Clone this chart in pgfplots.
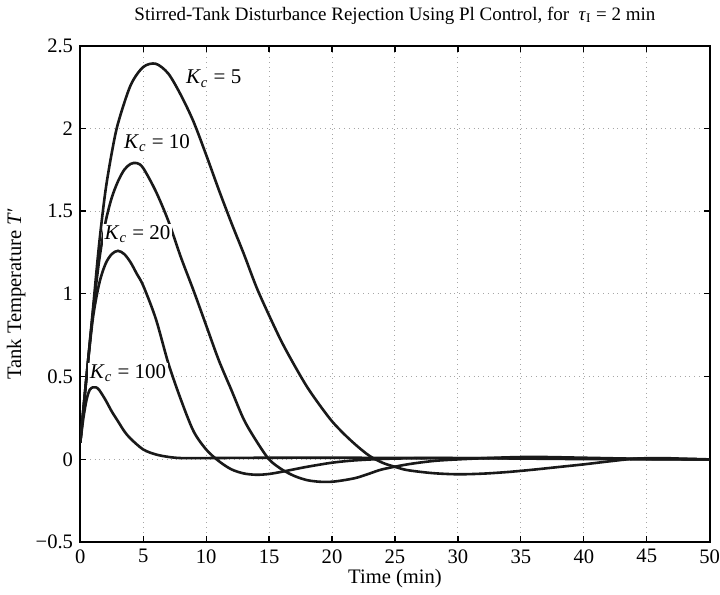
\documentclass[border=0pt]{standalone}
\usepackage{fontspec}
\setmainfont{Liberation Serif}
\usepackage{pgfplots}
\pgfplotsset{compat=1.18}

\begin{document}
\fontsize{10.3}{12}\selectfont
\begin{tikzpicture}
\begin{axis}[
    scale only axis,
    width=315pt, height=248.5pt,
    xmin=0, xmax=50, ymin=-0.5, ymax=2.5,
    xtick={0,5,...,50},
    ytick={-0.5,0,0.5,1,1.5,2,2.5},
    yticklabels={−0.5,0,0.5,1,1.5,2,2.5},
    tick align=inside,
    major tick length=3pt,
    tick style={black, line width=0.6pt},
    axis line style={line width=1pt},
    grid=major,
    major grid style={dotted, gray!70, line width=0.5pt},
    /pgf/number format/assume math mode=true,
    tick label style={font=\fontsize{10.3}{12}\selectfont},
    xticklabel style={inner xsep=0pt},
    label style={font=\fontsize{10.3}{12}\selectfont},
    xlabel={Time (min)},
    ylabel={Tank Temperature \textit{T}′},
    xlabel style={yshift=4pt},
    ylabel style={yshift=-2pt},
    title={Stirred-Tank Disturbance Rejection Using Pl Control, for \ \textit{τ}\textsubscript{I} = 2 min},
    title style={yshift=1pt, font=\fontsize{9.5}{11}\selectfont},
    curve/.style={black!90, line width=1.3pt, no markers, smooth, tension=0.5},
]
% Kc = 5
\addplot[curve] coordinates {
(0,0.10) (0.5,0.50) (1,0.90) (1.5,1.30) (2,1.62) (2.5,1.85) (3,2.03) (4,2.26)
(5,2.37) (6,2.39) (7,2.33) (8,2.20) (9,2.04) (10,1.84) (11,1.63) (12,1.43)
(13,1.24) (14,1.04) (15,0.87) (16,0.71) (17,0.57) (18,0.44) (19,0.33) (20,0.23)
(21,0.15) (22,0.08) (23,0.02) (24,-0.02) (25,-0.045) (26,-0.065) (28,-0.083)
(30,-0.09) (32,-0.086) (34,-0.076) (36,-0.062) (38,-0.046) (40,-0.03)
(42,-0.012) (44,0.004) (46,0.008) (48,0.004) (50,0.0)
};
% Kc = 10
\addplot[curve] coordinates {
(0,0.10) (0.5,0.50) (1,0.88) (1.5,1.20) (2,1.43) (2.5,1.58) (3,1.68) (3.5,1.75)
(4,1.785) (4.5,1.79) (5,1.76) (6,1.62) (7,1.44) (8,1.22) (9,1.02) (10,0.81)
(11,0.60) (12,0.42) (13,0.24) (14,0.11) (15,0.0) (16,-0.06) (17,-0.10)
(18,-0.125) (19,-0.135) (20,-0.135) (21,-0.125) (22,-0.11) (23,-0.085)
(24,-0.06) (26,-0.03) (28,-0.01) (30,0.0) (33,0.01) (36,0.015) (40,0.01)
(45,0.003) (50,0.0)
};
% Kc = 20
\addplot[curve] coordinates {
(0,0.10) (0.5,0.50) (1,0.85) (1.5,1.06) (2,1.18) (2.5,1.24) (3,1.26) (3.5,1.24)
(4,1.19) (4.5,1.12) (5,1.05) (6,0.85) (7,0.58) (8,0.36) (9,0.17) (10,0.06)
(11,-0.01) (12,-0.06) (13,-0.085) (14,-0.093) (15,-0.088) (16,-0.075)
(17,-0.06) (18,-0.045) (20,-0.02) (22,-0.005) (25,0.005) (30,0.008)
(35,0.005) (40,0.002) (50,0.0)
};
% Kc = 100
\addplot[curve] coordinates {
(0,0.10) (0.25,0.25) (0.5,0.36) (0.75,0.42) (1,0.435) (1.25,0.435) (1.5,0.42)
(2,0.36) (2.5,0.29) (3,0.23) (3.5,0.17) (4,0.125) (5,0.06) (6,0.03) (7,0.015)
(8,0.008) (10,0.008) (15,0.01) (20,0.01) (30,0.008) (40,0.005) (50,0.0)
};
\begin{scope}[every node/.style={fill=white, inner sep=1pt, font=\fontsize{10.5}{12}\selectfont}]
\node at (axis cs:10.6,2.30) {\textit{K}\textsubscript{\textit{c}} = 5};
\node at (axis cs:6.1,1.91) {\textit{K}\textsubscript{\textit{c}} = 10};
\node at (axis cs:4.55,1.36) {\textit{K}\textsubscript{\textit{c}} = 20};
\node at (axis cs:3.8,0.52) {\textit{K}\textsubscript{\textit{c}} = 100};
\end{scope}
\end{axis}
\end{tikzpicture}
\end{document}
